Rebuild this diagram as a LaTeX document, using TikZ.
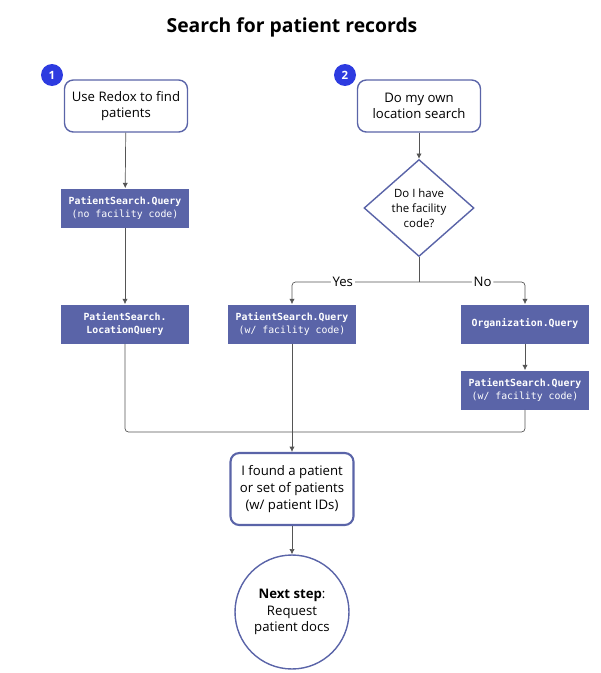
\documentclass[tikz,border=0pt]{standalone}
\usepackage{fontspec}
\setmainfont{Open Sans}
\newfontfamily\codefont{DejaVu Sans Mono}
\usetikzlibrary{arrows.meta,shapes.geometric,positioning}
\definecolor{rxblue}{HTML}{5A64A8}
\definecolor{rxbadge}{HTML}{2D3BE0}
\definecolor{rxline}{HTML}{555555}
\tikzset{
  stage/.style={rectangle, rounded corners=5pt, draw=rxblue, thick, fill=white, minimum width=2.46cm, minimum height=1.04cm, align=center, font=\fontsize{7.5}{9.5}\selectfont},
  api/.style={rectangle, fill=rxblue, text=white, minimum width=2.56cm, minimum height=0.78cm, align=center, font=\codefont\fontsize{5.6}{7.4}\selectfont},
  ask/.style={diamond, draw=rxblue, thick, fill=white, minimum width=2.2cm, minimum height=1.94cm, align=center, inner sep=0pt, font=\fontsize{6.5}{8.5}\selectfont},
  badge/.style={circle, fill=rxbadge, text=white, minimum size=0.44cm, inner sep=0pt, font=\bfseries\fontsize{6.5}{7}\selectfont},
  link/.style={draw=rxline, -{Latex[length=3pt,width=3pt]}, rounded corners=2pt},
  plain/.style={draw=rxline, rounded corners=2pt},
}
\begin{document}
\begin{tikzpicture}[x=0.02cm, y=-0.02cm]
\useasboundingbox (0,0) rectangle (600,673);
% title
\node[font=\bfseries\fontsize{11}{13}\selectfont] (title) at (292,27) {Search for patient records};

% path 1
\node[stage] (redox) at (126,106) {Use Redox to find\\patients};
\node[badge] (one) at (52,75) {1};
\node[api] (nofac) at (125,208) {\textbf{PatientSearch.Query}\\(no facility code)};
\node[api] (locq) at (125,324) {\textbf{PatientSearch.}\\\textbf{LocationQuery}};

% path 2
\node[stage] (own) at (419,106) {Do my own\\location search};
\node[badge] (two) at (345,75) {2};
\node[ask] (hasfac) at (419,208) {Do I have\\the facility\\code?};
\node[api] (withfac) at (292,324) {\textbf{PatientSearch.Query}\\(w/ facility code)};
\node[api] (orgq) at (525,324) {\textbf{Organization.Query}};
\node[api] (orgfac) at (525,390) {\textbf{PatientSearch.Query}\\(w/ facility code)};

% result
\node[stage, very thick, minimum height=1.44cm] (found) at (292,489) {I found a patient\\or set of patients\\(w/ patient IDs)};
\node[circle, draw=rxblue, thick, minimum size=2.28cm, align=center, font=\fontsize{7.5}{9.5}\selectfont] (next) at (292,612) {\textbf{Next step}:\\Request\\patient docs};

\coordinate (split) at (419,282);
\coordinate (join) at (292,432);

\draw[link] (redox) -- (nofac);
\draw[link] (nofac) -- (locq);
\draw[link] (own) -- (hasfac);
\draw[plain] (hasfac) -- (split);
\draw[link] (split) -| node[pos=0.3, fill=white, inner sep=1pt, font=\fontsize{7.5}{9}\selectfont] {Yes} (withfac);
\draw[link] (split) -| node[pos=0.3, fill=white, inner sep=1pt, font=\fontsize{7.5}{9}\selectfont] {No} (orgq);
\draw[link] (orgq) -- (orgfac);
\draw[plain] (locq) |- (join);
\draw[plain] (orgfac) |- (join);
\draw[link] (withfac) -- (found);
\draw[link] (found) -- (next);
\end{tikzpicture}
\end{document}
